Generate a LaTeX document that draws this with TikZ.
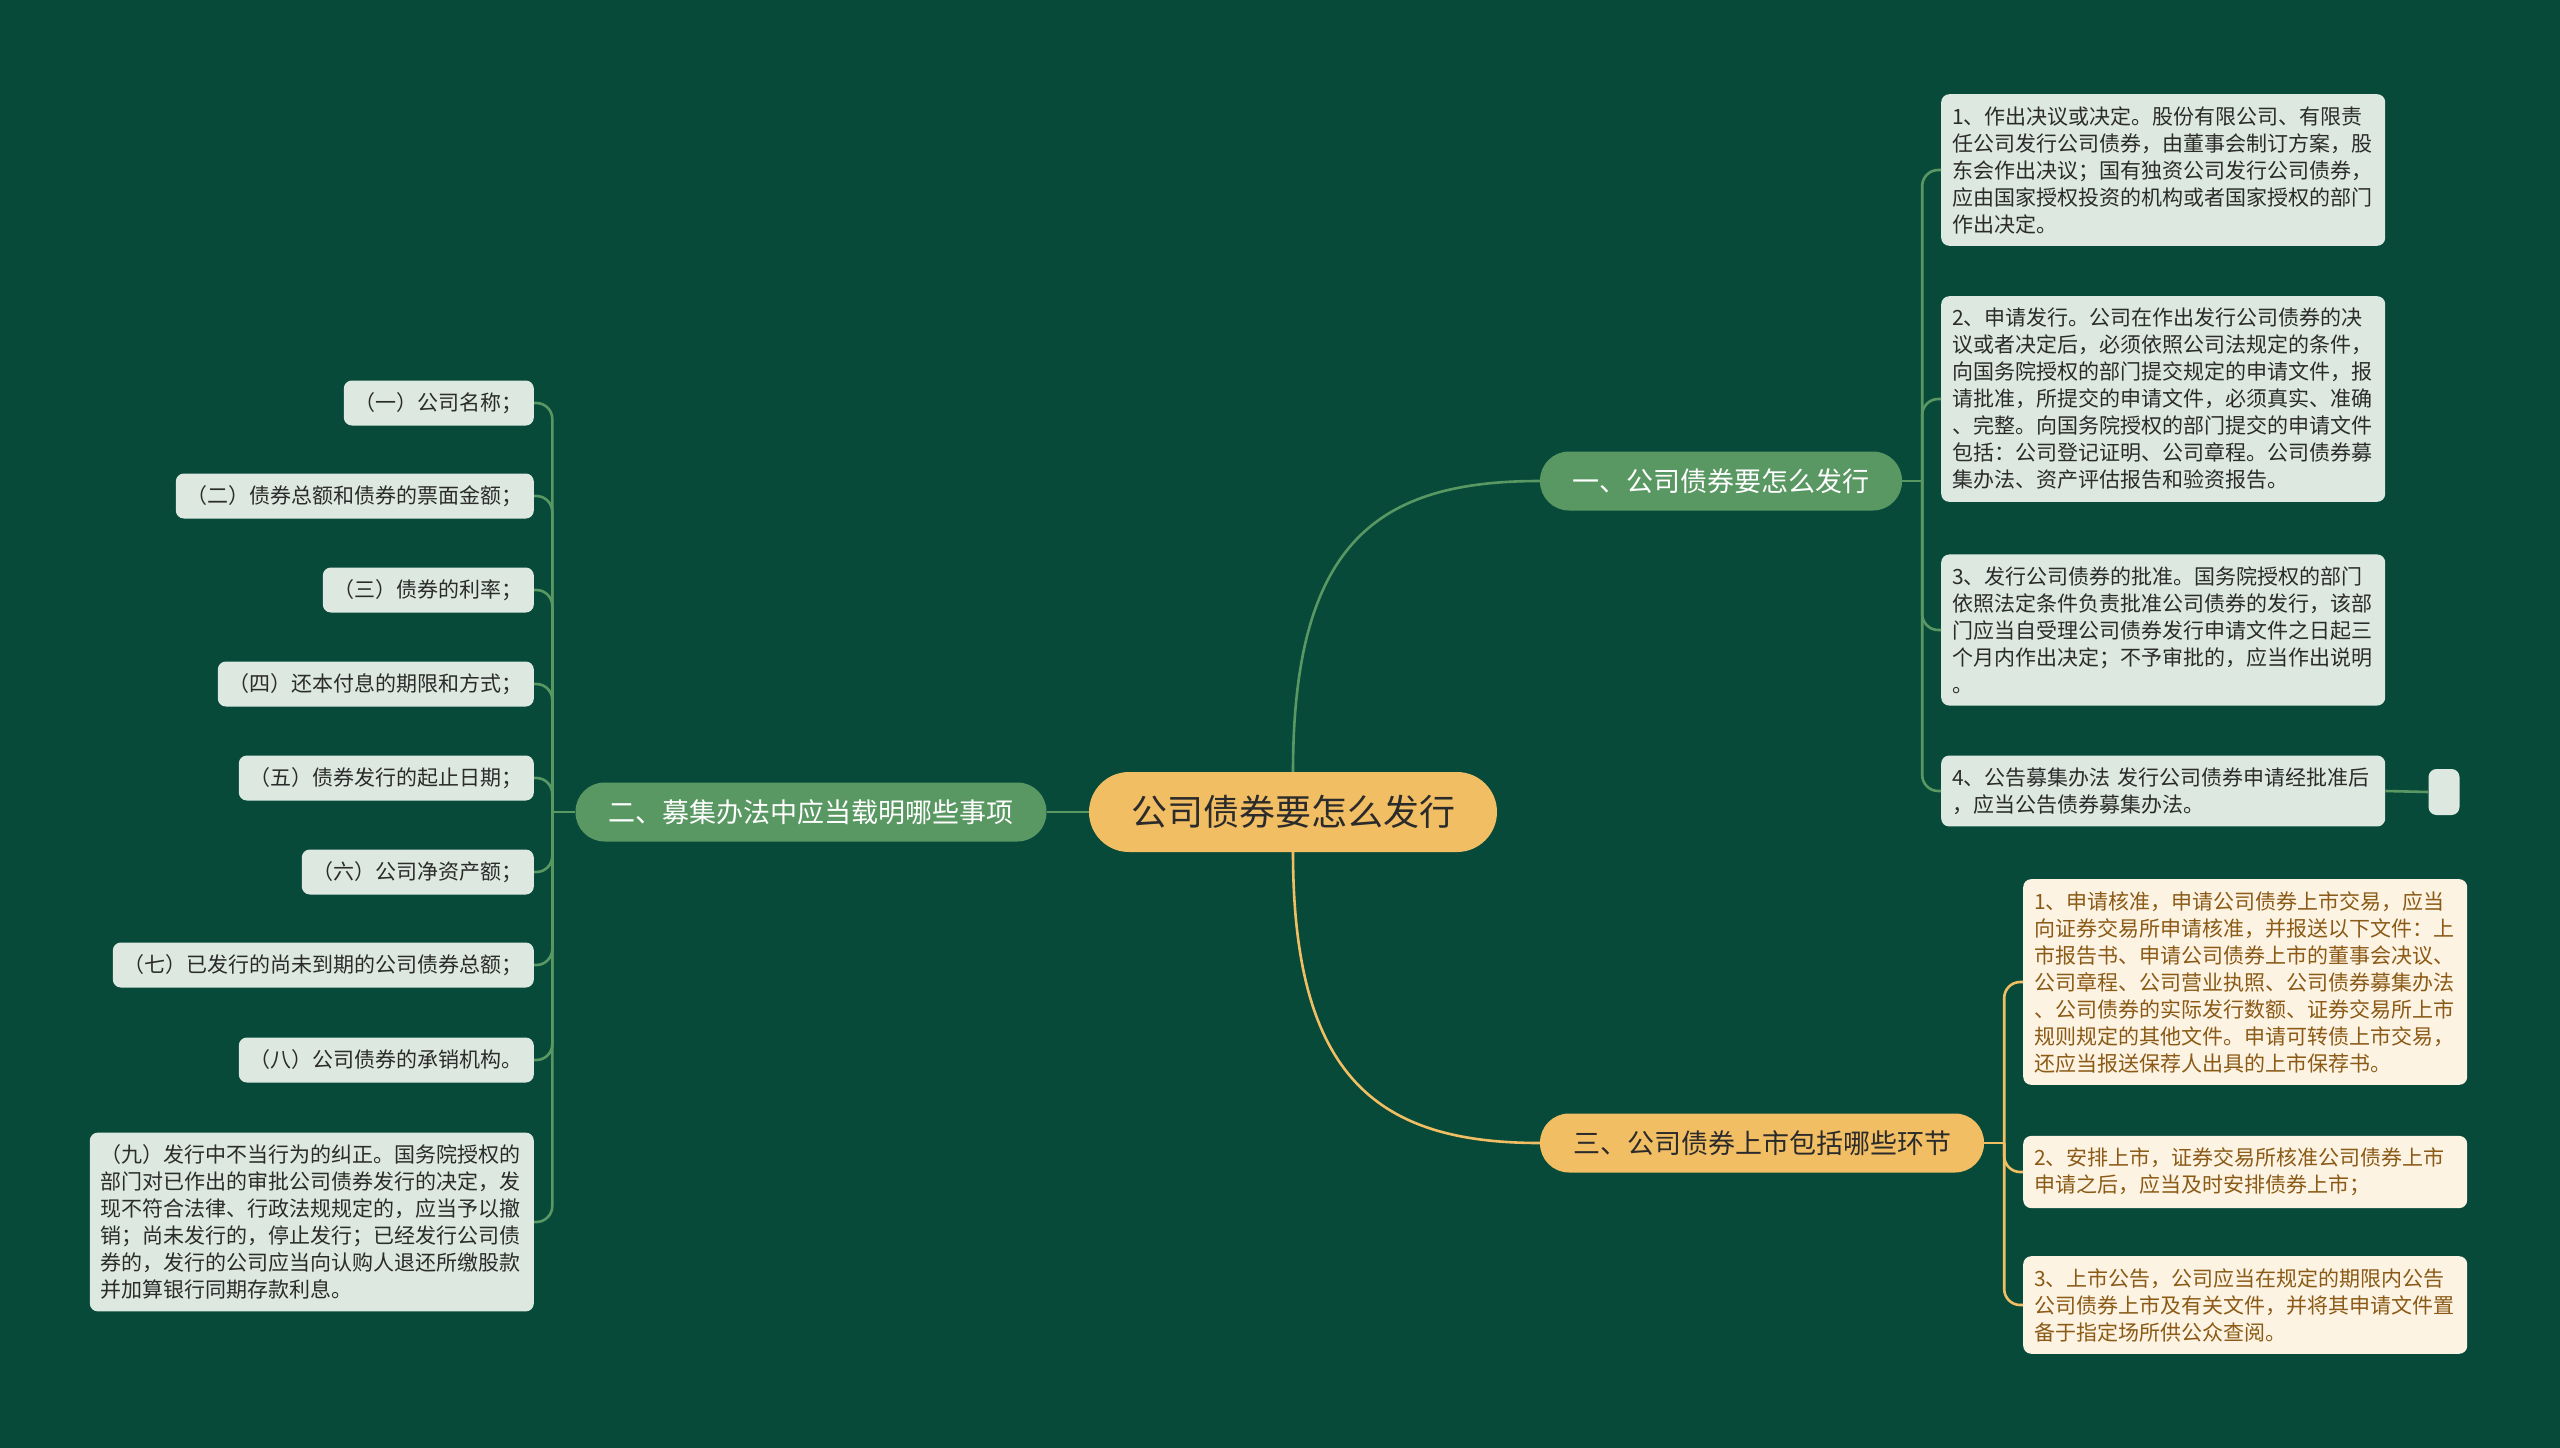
\documentclass[tikz,border=0pt]{standalone}
\usepackage{fontspec}
\setmainfont{Noto Sans CJK SC}
\usepackage{tikz}
\usetikzlibrary{positioning}
\definecolor{bgdark}{HTML}{074A3A}
\definecolor{mapgreen}{HTML}{5A9863}
\definecolor{leafgreen}{HTML}{DDE9E0}
\definecolor{maporange}{HTML}{F2BE64}
\definecolor{leaforange}{HTML}{FDF3E3}
\definecolor{textbrown}{HTML}{8A5A16}
\definecolor{textdark}{HTML}{2B2B2B}

\begin{document}
\begin{tikzpicture}[x=1pt, y=-1pt,
  rootbox/.style={fill=maporange, rounded corners=40pt, minimum width=408pt, minimum height=80pt,
    font=\fontsize{36}{40}\selectfont, text=textdark},
  branchg/.style={fill=mapgreen, rounded corners=29pt, minimum height=59pt,
    font=\fontsize{27}{30}\selectfont, text=white},
  brancho/.style={fill=maporange, rounded corners=29pt, minimum height=59pt,
    font=\fontsize{27}{30}\selectfont, text=textdark},
  leafg/.style={fill=leafgreen, rounded corners=8pt, text width=422pt, inner xsep=11pt, inner ysep=12pt,
    align=left, font=\fontsize{21}{27}\selectfont, text=textdark, anchor=west},
  leafo/.style={leafg, fill=leaforange, text=textbrown},
  itemg/.style={fill=leafgreen, rounded corners=8pt, inner xsep=11pt, minimum height=45pt,
    font=\fontsize{21}{27}\selectfont, text=textdark, anchor=east},
  linkg/.style={draw=mapgreen, line width=2.6pt},
  linko/.style={draw=maporange, line width=2.6pt}]
  \fill[bgdark] (0,0) rectangle (2560,1448);
  \useasboundingbox (0,0) rectangle (2560,1448);

  % centre and main branches
  \node[rootbox] (root) at (1293,812) {公司债券要怎么发行};
  \node[branchg, minimum width=362pt] (br1) at (1721,481) {一、公司债券要怎么发行};
  \node[branchg, minimum width=471pt] (br2) at (811,812) {二、募集办法中应当载明哪些事项};
  \node[brancho, minimum width=444pt] (br3) at (1762,1143) {三、公司债券上市包括哪些环节};

  % branch 1
  \node[leafg] (s1) at (1941,170) {1、作出决议或决定。股份有限公司、有限责\\任公司发行公司债券，由董事会制订方案，股\\东会作出决议；国有独资公司发行公司债券，\\应由国家授权投资的机构或者国家授权的部门\\作出决定。};
  \node[leafg] (s2) at (1941,399) {2、申请发行。公司在作出发行公司债券的决\\议或者决定后，必须依照公司法规定的条件，\\向国务院授权的部门提交规定的申请文件，报\\请批准，所提交的申请文件，必须真实、准确\\、完整。向国务院授权的部门提交的申请文件\\包括：公司登记证明、公司章程。公司债券募\\集办法、资产评估报告和验资报告。};
  \node[leafg] (s3) at (1941,630) {3、发行公司债券的批准。国务院授权的部门\\依照法定条件负责批准公司债券的发行，该部\\门应当自受理公司债券发行申请文件之日起三\\个月内作出决定；不予审批的，应当作出说明\\。};
  \node[leafg] (s4) at (1941,791) {4、公告募集办法 发行公司债券申请经批准后\\，应当公告债券募集办法。};
  \node[fill=leafgreen, rounded corners=8pt, minimum width=31pt, minimum height=46pt] (blank) at (2444,792) {};

  % branch 2
  \node[itemg] (m1) at (534,403) {（一）公司名称；};
  \node[itemg] (m2) at (534,496) {（二）债券总额和债券的票面金额；};
  \node[itemg] (m3) at (534,590) {（三）债券的利率；};
  \node[itemg] (m4) at (534,684) {（四）还本付息的期限和方式；};
  \node[itemg] (m5) at (534,778) {（五）债券发行的起止日期；};
  \node[itemg] (m6) at (534,872) {（六）公司净资产额；};
  \node[itemg] (m7) at (534,965) {（七）已发行的尚未到期的公司债券总额；};
  \node[itemg] (m8) at (534,1060) {（八）公司债券的承销机构。};
  \node[leafg, anchor=east] (m9) at (534,1222) {（九）发行中不当行为的纠正。国务院授权的\\部门对已作出的审批公司债券发行的决定，发\\现不符合法律、行政法规规定的，应当予以撤\\销；尚未发行的，停止发行；已经发行公司债\\券的，发行的公司应当向认购人退还所缴股款\\并加算银行同期存款利息。};

  % branch 3
  \node[leafo] (l1) at (2023,982) {1、申请核准，申请公司债券上市交易，应当\\向证券交易所申请核准，并报送以下文件：上\\市报告书、申请公司债券上市的董事会决议、\\公司章程、公司营业执照、公司债券募集办法\\、公司债券的实际发行数额、证券交易所上市\\规则规定的其他文件。申请可转债上市交易，\\还应当报送保荐人出具的上市保荐书。};
  \node[leafo] (l2) at (2023,1172) {2、安排上市，证券交易所核准公司债券上市\\申请之后，应当及时安排债券上市；};
  \node[leafo] (l3) at (2023,1305) {3、上市公告，公司应当在规定的期限内公告\\公司债券上市及有关文件，并将其申请文件置\\备于指定场所供公众查阅。};

  % connectors
  \draw[linkg] (root.north) .. controls +(0,-232) and +(-160,0) .. (br1.west);
  \draw[linkg] (root.west) -- (br2.east);
  \draw[linko] (root.south) .. controls +(0,228) and +(-160,0) .. (br3.west);
  \draw[linkg] (br1.east) -- ++(20,0) coordinate (j1);
  \foreach \n in {s1,s2,s3,s4}
    \draw[linkg, rounded corners=16pt] (j1) |- (\n.west);
  \draw[linkg] (s4.east) -- (blank.west);
  \draw[linkg] (br2.west) -- ++(-23,0) coordinate (j2);
  \foreach \n in {m1,m2,m3,m4,m5,m6,m7,m8,m9}
    \draw[linkg, rounded corners=16pt] (j2) |- (\n.east);
  \draw[linko] (br3.east) -- ++(20,0) coordinate (j3);
  \foreach \n in {l1,l2,l3}
    \draw[linko, rounded corners=16pt] (j3) |- (\n.west);
\end{tikzpicture}
\end{document}
